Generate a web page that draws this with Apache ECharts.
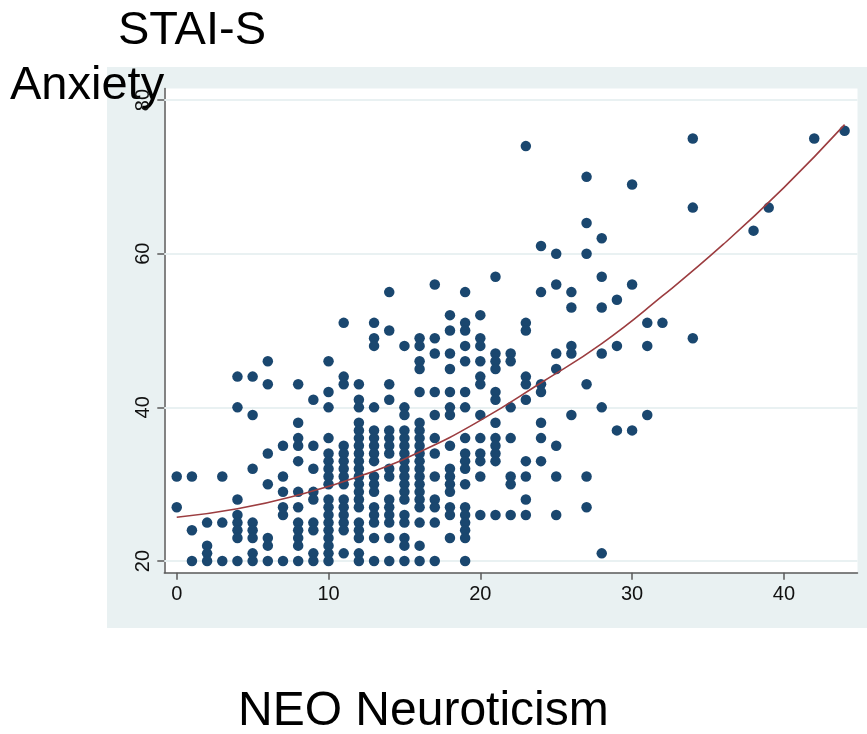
<!DOCTYPE html>
<html>
<head>
<meta charset="utf-8">
<script src="https://cdn.jsdelivr.net/npm/echarts@6/dist/echarts.min.js"></script>
<style>
html,body{margin:0;padding:0;background:#fff;}
#chart{width:867px;height:734px;}
</style>
</head>
<body>
<div id="chart"></div>
<script>
// Tick labels
const xTicks = [0, 10, 20, 30, 40];
const yTicks = [20, 40, 60, 80];

// Observations: [NEO Neuroticism, STAI-S Anxiety]
const observations = [
  [0,31],[0,27],
  [1,31],[1,24],[1,20],
  [2,25],[2,22],[2,21],[2,20],
  [3,31],[3,25],[3,20],
  [4,44],[4,40],[4,28],[4,26],[4,25],[4,24],[4,23],[4,20],
  [5,44],[5,39],[5,32],[5,25],[5,24],[5,23],[5,21],[5,20],
  [6,46],[6,43],[6,34],[6,30],[6,23],[6,22],[6,20],
  [7,35],[7,31],[7,29],[7,27],[7,26],[7,20],
  [8,43],[8,38],[8,36],[8,35],[8,33],[8,29],[8,27],[8,25],[8,24],[8,23],[8,22],[8,20],
  [9,41],[9,35],[9,32],[9,29],[9,28],[9,25],[9,24],[9,21],[9,20],
  [10,46],[10,42],[10,40],[10,36],[10,34],[10,33],[10,32],[10,31],[10,30],[10,28],[10,27],[10,26],[10,25],[10,24],[10,23],[10,22],[10,21],[10,20],
  [11,51],[11,44],[11,43],[11,35],[11,34],[11,33],[11,32],[11,31],[11,30],[11,28],[11,27],[11,26],[11,25],[11,24],[11,21],
  [12,43],[12,41],[12,40],[12,38],[12,37],[12,36],[12,35],[12,34],[12,33],[12,32],[12,31],[12,30],[12,29],[12,28],[12,27],[12,25],[12,24],[12,23],[12,21],[12,20],
  [13,51],[13,49],[13,48],[13,40],[13,37],[13,36],[13,35],[13,34],[13,33],[13,31],[13,30],[13,29],[13,27],[13,26],[13,25],[13,23],[13,20],
  [14,55],[14,50],[14,43],[14,41],[14,37],[14,36],[14,35],[14,34],[14,32],[14,31],[14,28],[14,27],[14,26],[14,25],[14,23],[14,20],
  [15,48],[15,40],[15,39],[15,37],[15,36],[15,35],[15,34],[15,33],[15,32],[15,31],[15,30],[15,29],[15,28],[15,26],[15,25],[15,23],[15,22],[15,20],
  [16,49],[16,48],[16,46],[16,45],[16,42],[16,38],[16,37],[16,36],[16,35],[16,34],[16,33],[16,32],[16,31],[16,30],[16,29],[16,28],[16,27],[16,25],[16,22],[16,20],
  [17,56],[17,49],[17,47],[17,42],[17,39],[17,36],[17,34],[17,31],[17,28],[17,27],[17,25],[17,20],
  [18,52],[18,50],[18,47],[18,45],[18,42],[18,40],[18,39],[18,35],[18,32],[18,31],[18,30],[18,29],[18,27],[18,26],[18,23],
  [19,55],[19,51],[19,50],[19,48],[19,46],[19,42],[19,40],[19,36],[19,34],[19,33],[19,32],[19,30],[19,27],[19,26],[19,25],[19,24],[19,23],[19,20],
  [20,52],[20,49],[20,48],[20,46],[20,44],[20,43],[20,39],[20,36],[20,34],[20,33],[20,31],[20,26],
  [21,57],[21,47],[21,46],[21,45],[21,42],[21,41],[21,38],[21,36],[21,35],[21,34],[21,33],[21,26],
  [22,47],[22,46],[22,40],[22,36],[22,31],[22,30],[22,26],
  [23,74],[23,51],[23,50],[23,44],[23,43],[23,41],[23,33],[23,31],[23,28],[23,26],
  [24,61],[24,55],[24,43],[24,42],[24,38],[24,36],[24,33],
  [25,60],[25,56],[25,47],[25,45],[25,35],[25,31],[25,26],
  [26,55],[26,53],[26,48],[26,47],[26,39],
  [27,70],[27,64],[27,60],[27,43],[27,31],[27,27],
  [28,62],[28,57],[28,53],[28,47],[28,40],[28,21],
  [29,54],[29,48],[29,37],
  [30,69],[30,56],[30,37],
  [31,51],[31,48],[31,39],
  [32,51],
  [34,75],[34,66],[34,49],
  [38,63],
  [39,66],
  [42,75],
  [44,76]
];

// Fitted quadratic curve
const fitNeo  = [0, 4, 8, 12, 16, 20, 24, 28, 32, 36, 40, 44];
const fitStai = [25.7, 26.8, 28.6, 31.0, 34.2, 38.3, 43.2, 48.3, 54.5, 61.2, 68.6, 76.8];

const chart = echarts.init(document.getElementById('chart'));
const FONT = 'Liberation Sans, Arial, sans-serif';
const axisColor = '#5a5a5a';

chart.setOption({
  backgroundColor: 'transparent',
  animation: false,
  graphic: [
    { type: 'rect', z: -10, shape: { x: 107, y: 67, width: 760, height: 561 }, style: { fill: '#e9f1f2' }, silent: true },
    { type: 'text', left: 118, top: 8, style: { text: 'STAI-S', font: '47px ' + FONT, fill: '#000' } },
    { type: 'text', left: 10, top: 63, style: { text: 'Anxiety', font: '47px ' + FONT, fill: '#000' } },
    { type: 'text', left: 238, top: 688, style: { text: 'NEO Neuroticism', font: '48px ' + FONT, fill: '#000' } }
  ],
  grid: {
    left: 164.3, right: 9.5, top: 88.5, bottom: 161.3,
    show: true, backgroundColor: '#ffffff', borderWidth: 0
  },
  xAxis: {
    type: 'value', min: -0.82, max: 44.85,
    axisLine: { show: true, onZero: false, lineStyle: { color: axisColor, width: 1.5 } },
    axisTick: { show: true, length: 7, customValues: xTicks, lineStyle: { color: axisColor, width: 1.5 } },
    axisLabel: { customValues: xTicks, fontSize: 20, fontFamily: FONT, color: '#111', margin: 12 },
    splitLine: { show: false }
  },
  yAxis: {
    type: 'value', min: 18.48, max: 81.5,
    axisLine: { show: true, onZero: false, lineStyle: { color: axisColor, width: 1.5 } },
    axisTick: { show: true, length: 7, customValues: yTicks, lineStyle: { color: axisColor, width: 1.5 } },
    axisLabel: { customValues: yTicks, rotate: 90, fontSize: 20, fontFamily: FONT, color: '#111', margin: 11 },
    splitLine: { show: false }
  },
  series: [
    {
      type: 'line', data: [], z: 1,
      markLine: {
        z: 1, silent: true, symbol: ['none', 'none'],
        label: { show: false },
        lineStyle: { color: '#e9f1f2', width: 2, type: 'solid' },
        data: yTicks.map(v => ({ yAxis: v }))
      }
    },
    {
      type: 'scatter', z: 3,
      data: observations,
      symbol: 'circle', symbolSize: 10.5,
      itemStyle: { color: '#1a476f', opacity: 1 }
    },
    {
      type: 'line', z: 4,
      data: fitNeo.map((x, i) => [x, fitStai[i]]),
      smooth: true, showSymbol: false,
      lineStyle: { color: '#9c3d40', width: 1.6 }
    }
  ]
});
</script>
</body>
</html>
